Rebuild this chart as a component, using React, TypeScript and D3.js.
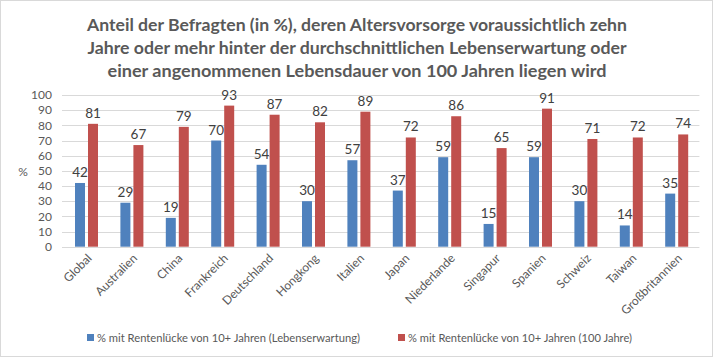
import React from "react";
import * as d3 from "d3";

const categories = ["Global", "Australien", "China", "Frankreich", "Deutschland", "Hongkong", "Italien", "Japan", "Niederlande", "Singapur", "Spanien", "Schweiz", "Taiwan", "Großbritannien"];
const lifeExpectancy = [42, 29, 19, 70, 54, 30, 57, 37, 59, 15, 59, 30, 14, 35];
const hundredYears = [81, 67, 79, 93, 87, 82, 89, 72, 86, 65, 91, 71, 72, 74];
const seriesNames = ["% mit Rentenlücke von 10+ Jahren (Lebenserwartung)", "% mit Rentenlücke von 10+ Jahren (100 Jahre)"];
const yTicks = [0, 10, 20, 30, 40, 50, 60, 70, 80, 90, 100];
const titleLines = [
  "Anteil der Befragten (in %), deren Altersvorsorge voraussichtlich zehn",
  "Jahre oder mehr hinter der durchschnittlichen Lebenserwartung oder",
  "einer angenommenen Lebensdauer von 100 Jahren liegen wird",
];

const W = 714;
const H = 358;
const colors = ["#4F81BD", "#C0504D"];
const font = "Lato, 'Open Sans', sans-serif";

export default function App() {
  const x0 = d3.scaleBand<string>().domain(categories).range([63.8, 699.4]).padding(0);
  const x1 = d3.scaleBand<string>().domain(["a", "b"]).range([0, 23]).paddingInner(0.2308);
  const y = d3.scaleLinear().domain([0, 100]).range([246.7, 95]);
  const series = [lifeExpectancy, hundredYears];
  const keys = ["a", "b"];
  const titleWidths = [540, 539, 499];
  const legendWidths = [263, 224];

  return (
    <svg width={W} height={H} style={{ position: "absolute", left: 0, top: 0 }} fontFamily={font}>
      <rect x={0.5} y={0.5} width={712} height={356} fill="#fff" stroke="#D9D9D9" />
      {titleLines.map((t, i) => (
        <text key={i} x={W / 2 + 0} y={31 + i * 23} textAnchor="middle" fontSize={17.5} fontWeight="bold" fill="#595959" textLength={titleWidths[i]} lengthAdjust="spacingAndGlyphs">{t}</text>
      ))}
      {yTicks.map((t) => (
        <g key={t}>
          <line x1={62} x2={699.4} y1={Math.round(y(t)) + 0.5} y2={Math.round(y(t)) + 0.5} stroke="#D9D9D9" />
          <text x={52} y={y(t)} dy="0.35em" textAnchor="end" fontSize={12} fill="#595959">{t}</text>
        </g>
      ))}
      <text x={23} y={172} dy="0.35em" textAnchor="middle" fontSize={12} fill="#595959">%</text>
      {categories.map((c, ci) => {
        const base = x0(c)! + x0.bandwidth() / 2 - 11.5;
        return (
          <g key={c}>
            {series.map((s, si) => {
              const bx = base + x1(keys[si])!;
              const v = s[ci];
              return (
                <g key={si}>
                  <rect x={bx} y={y(v)} width={x1.bandwidth()} height={y(0) - y(v)} fill={colors[si]} />
                  <text x={bx + x1.bandwidth() / 2} y={y(v) - 6} textAnchor="middle" fontSize={13.5} fill="#404040">{v}</text>
                </g>
              );
            })}
            <text transform={`translate(${x0(c)! + x0.bandwidth() / 2 + 3},${256}) rotate(-45)`} textAnchor="end" dy="0.35em" fontSize={12} fill="#595959">{c}</text>
          </g>
        );
      })}
      {seriesNames.map((n, i) => {
        const lx = i === 0 ? 87 : 398;
        return (
          <g key={n}>
            <rect x={lx} y={334} width={7} height={7} fill={colors[i]} />
            <text x={lx + 10} y={337.7} dy="0.35em" fontSize={12} fill="#595959" textLength={legendWidths[i]} lengthAdjust="spacingAndGlyphs">{n}</text>
          </g>
        );
      })}
    </svg>
  );
}
